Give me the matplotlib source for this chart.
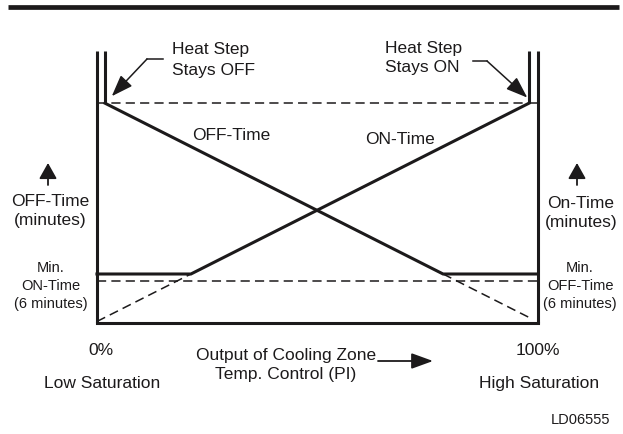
import numpy as np
import matplotlib
matplotlib.use("Agg")
import matplotlib.pyplot as plt
from matplotlib.lines import Line2D

plt.rcParams['font.family'] = ['Liberation Sans', 'DejaVu Sans']

# schematic values: x = output of PI control (%), y = time (minutes)
pct = [0, 100]
on_time = [0.8, 31.4]     # ON-Time rises with PI output
off_time = [31.4, 0.8]    # OFF-Time falls with PI output
max_time = 31.4           # heat step stays OFF / ON level
floor_time = 7.0          # solid clamp level
min_time = 6.0            # min ON / OFF time (6 minutes)

INK = '#1c1a1b'
W, H = 623, 435

# frame extents (in data units)
X_L, X_R = -1.9, 102.1
Y_TOP = 38.9


def fxy(px, py):
    return (px / W, 1 - py / H)


def line_at(xs, ys, x):
    # straight line through the two points, evaluated at x
    slope = (ys[1] - ys[0]) / (xs[1] - xs[0])
    return ys[0] + slope * (x - xs[0])


fig = plt.figure(figsize=(W / 100, H / 100), dpi=100)
ax = fig.add_axes([0, 0, 1, 1])
# px = 105 + 4.24 * x ; py = 324 - 7 * y
ax.set_xlim(-105 / 4.24, (W - 105) / 4.24)
ax.set_ylim((324 - H) / 7, 324 / 7)
ax.axis('off')

# heavy rule at top of page
fig.add_artist(Line2D([8 / W, 619 / W], [1 - 8 / H, 1 - 8 / H], color=INK,
                      lw=3.4, transform=fig.transFigure, solid_capstyle='butt'))

# frame
lw_frame = 2.2
ax.plot([X_L, X_L], [0, Y_TOP], color=INK, lw=lw_frame, solid_capstyle='butt')
ax.plot([X_R, X_R], [0, Y_TOP], color=INK, lw=lw_frame, solid_capstyle='butt')
ax.plot([0, 0], [max_time, Y_TOP], color=INK, lw=lw_frame, solid_capstyle='butt')
ax.plot([100, 100], [max_time, Y_TOP], color=INK, lw=lw_frame, solid_capstyle='butt')
ax.plot([X_L, X_R], [0, 0], color=INK, lw=lw_frame, solid_capstyle='projecting')

dash = dict(color=INK, lw=1.1, linestyle=(0, (6, 3.4)))
ax.plot([X_L, X_R], [max_time, max_time], **dash)
ax.plot([X_L, X_R], [min_time, min_time], **dash)

# kinks where the lines hit the floor
x_on = np.interp(floor_time, on_time, pct)
x_off = np.interp(floor_time, off_time[::-1], pct[::-1])

ax.plot([X_L, x_on, pct[1]], [floor_time, floor_time, on_time[1]],
        color=INK, lw=2.2, solid_joinstyle='miter')
ax.plot([pct[0], x_off, X_R], [off_time[0], floor_time, floor_time],
        color=INK, lw=2.2, solid_joinstyle='miter')
ax.plot([X_L, x_on], [line_at(pct, on_time, X_L), floor_time], **dash)
ax.plot([x_off, 100.7], [floor_time, line_at(pct, off_time, 100.7)], **dash)

big = 12.5
small = 10.5
ax.text(*fxy(192, 136), 'OFF-Time', transform=fig.transFigure, fontsize=big,
        ha='left', va='center', color=INK)
ax.text(*fxy(365, 140), 'ON-Time', transform=fig.transFigure, fontsize=big,
        ha='left', va='center', color=INK)

# heat step callouts
ax.text(*fxy(172, 60), 'Heat Step\nStays OFF', transform=fig.transFigure,
        fontsize=big, ha='left', va='center', linespacing=1.45, color=INK)
ax.text(*fxy(385, 58), 'Heat Step\nStays ON', transform=fig.transFigure,
        fontsize=big, ha='left', va='center', linespacing=1.4, color=INK)

arrow_kw = dict(arrowstyle='-|>,head_length=1.1,head_width=0.4', color=INK,
                lw=1.1, shrinkA=0, shrinkB=0, mutation_scale=12)
fig.add_artist(Line2D([147 / W, 163 / W], [1 - 60 / H] * 2, color=INK, lw=1.1))
ax.annotate('', xy=(1.6, 32.4), xycoords='data', xytext=fxy(147, 60),
            textcoords='figure fraction', arrowprops=arrow_kw)
fig.add_artist(Line2D([473 / W, 487 / W], [1 - 62 / H] * 2, color=INK, lw=1.1))
ax.annotate('', xy=(99.6, 32.2), xycoords='data', xytext=fxy(487, 62),
            textcoords='figure fraction', arrowprops=arrow_kw)

# side labels
up_kw = dict(arrowstyle='-|>,head_length=0.8,head_width=0.45', color=INK,
             lw=1.3, shrinkA=0, shrinkB=0, mutation_scale=12)
ax.annotate('', xy=fxy(48, 164), xycoords='figure fraction', xytext=fxy(48, 186),
            textcoords='figure fraction', arrowprops=up_kw)
ax.annotate('', xy=fxy(577, 164), xycoords='figure fraction', xytext=fxy(577, 186),
            textcoords='figure fraction', arrowprops=up_kw)
ax.text(*fxy(50, 211), 'OFF-Time\n(minutes)', transform=fig.transFigure,
        fontsize=big, ha='center', va='center', linespacing=1.3, color=INK)
ax.text(*fxy(581, 213), 'On-Time\n(minutes)', transform=fig.transFigure,
        fontsize=big, ha='center', va='center', linespacing=1.3, color=INK)
ax.text(*fxy(51, 286), 'Min.\nON-Time\n(6 minutes)', transform=fig.transFigure,
        fontsize=small, ha='center', va='center', linespacing=1.33, color=INK)
ax.text(*fxy(580, 286), 'Min.\nOFF-Time\n(6 minutes)', transform=fig.transFigure,
        fontsize=small, ha='center', va='center', linespacing=1.33, color=INK)

# bottom labels
ax.text(*fxy(101, 351), '0%', transform=fig.transFigure, fontsize=big,
        ha='center', va='center', color=INK)
ax.text(*fxy(538, 351), '100%', transform=fig.transFigure, fontsize=big,
        ha='center', va='center', color=INK)
ax.text(*fxy(102, 384), 'Low Saturation', transform=fig.transFigure,
        fontsize=big, ha='center', va='center', color=INK)
ax.text(*fxy(539, 384), 'High Saturation', transform=fig.transFigure,
        fontsize=big, ha='center', va='center', color=INK)
ax.text(*fxy(286, 365), 'Output of Cooling Zone\nTemp. Control (PI)',
        transform=fig.transFigure, fontsize=big, ha='center', va='center',
        linespacing=1.3, color=INK)
ax.annotate('', xy=fxy(433, 362), xycoords='figure fraction', xytext=fxy(378, 362),
            textcoords='figure fraction',
            arrowprops=dict(arrowstyle='-|>,head_length=1.1,head_width=0.4',
                            color=INK, lw=1.3, shrinkA=0, shrinkB=0,
                            mutation_scale=12))
ax.text(*fxy(610, 420), 'LD06555', transform=fig.transFigure, fontsize=small,
        ha='right', va='center', color=INK)

fig.savefig('out.png', dpi=100)
